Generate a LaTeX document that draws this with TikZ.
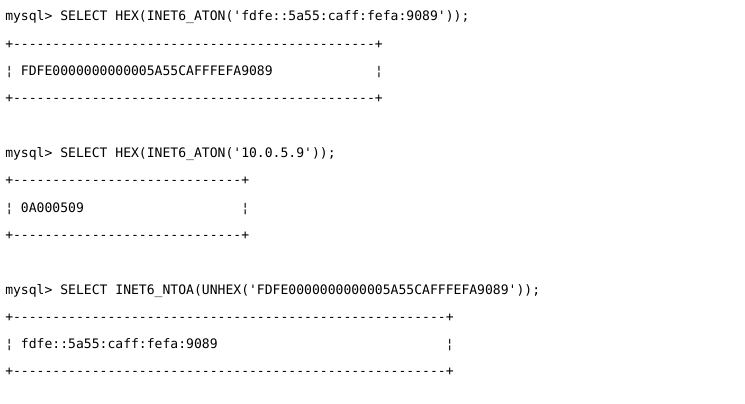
\documentclass[tikz,border=0pt]{standalone}
\usepackage{fontspec}
\setmonofont{DejaVu Sans Mono}
\usetikzlibrary{positioning}
\tikzset{txt/.style={anchor=base west,inner sep=0pt,font=\ttfamily\fontsize{9.8pt}{12pt}\selectfont},
	bar/.style={txt,anchor=base east}}

\begin{document}
\begin{tikzpicture}[x=0.75pt,y=-0.75pt]
	\useasboundingbox (0,0) rectangle (745,403);
	
	% first query
	\node[txt] (q1) at (5,21) {mysql> SELECT HEX(INET6\_ATON('fdfe::5a55:caff:fefa:9089'));};
	\node[txt] (t1) at (5,48.3) {+----------------------------------------------+};
	\node[txt] (r1) at (5,75.6) {¦ FDFE0000000000005A55CAFFFEFA9089};
	\node[bar] (e1) at (t1.base east|-r1.base) {¦};
	\node[txt] (b1) at (5,102.9) {+----------------------------------------------+};
	
	% second query
	\node[txt] (q2) at (5,157.5) {mysql> SELECT HEX(INET6\_ATON('10.0.5.9'));};
	\node[txt] (t2) at (5,184.8) {+-----------------------------+};
	\node[txt] (r2) at (5,212.1) {¦ 0A000509};
	\node[bar] (e2) at (t2.base east|-r2.base) {¦};
	\node[txt] (b2) at (5,239.4) {+-----------------------------+};
	
	% third query
	\node[txt] (q3) at (5,294) {mysql> SELECT INET6\_NTOA(UNHEX('FDFE0000000000005A55CAFFFEFA9089'));};
	\node[txt] (t3) at (5,321.3) {+-------------------------------------------------------+};
	\node[txt] (r3) at (5,348.6) {¦ fdfe::5a55:caff:fefa:9089};
	\node[bar] (e3) at (t3.base east|-r3.base) {¦};
	\node[txt] (b3) at (5,375.9) {+-------------------------------------------------------+};
\end{tikzpicture}
\end{document}
